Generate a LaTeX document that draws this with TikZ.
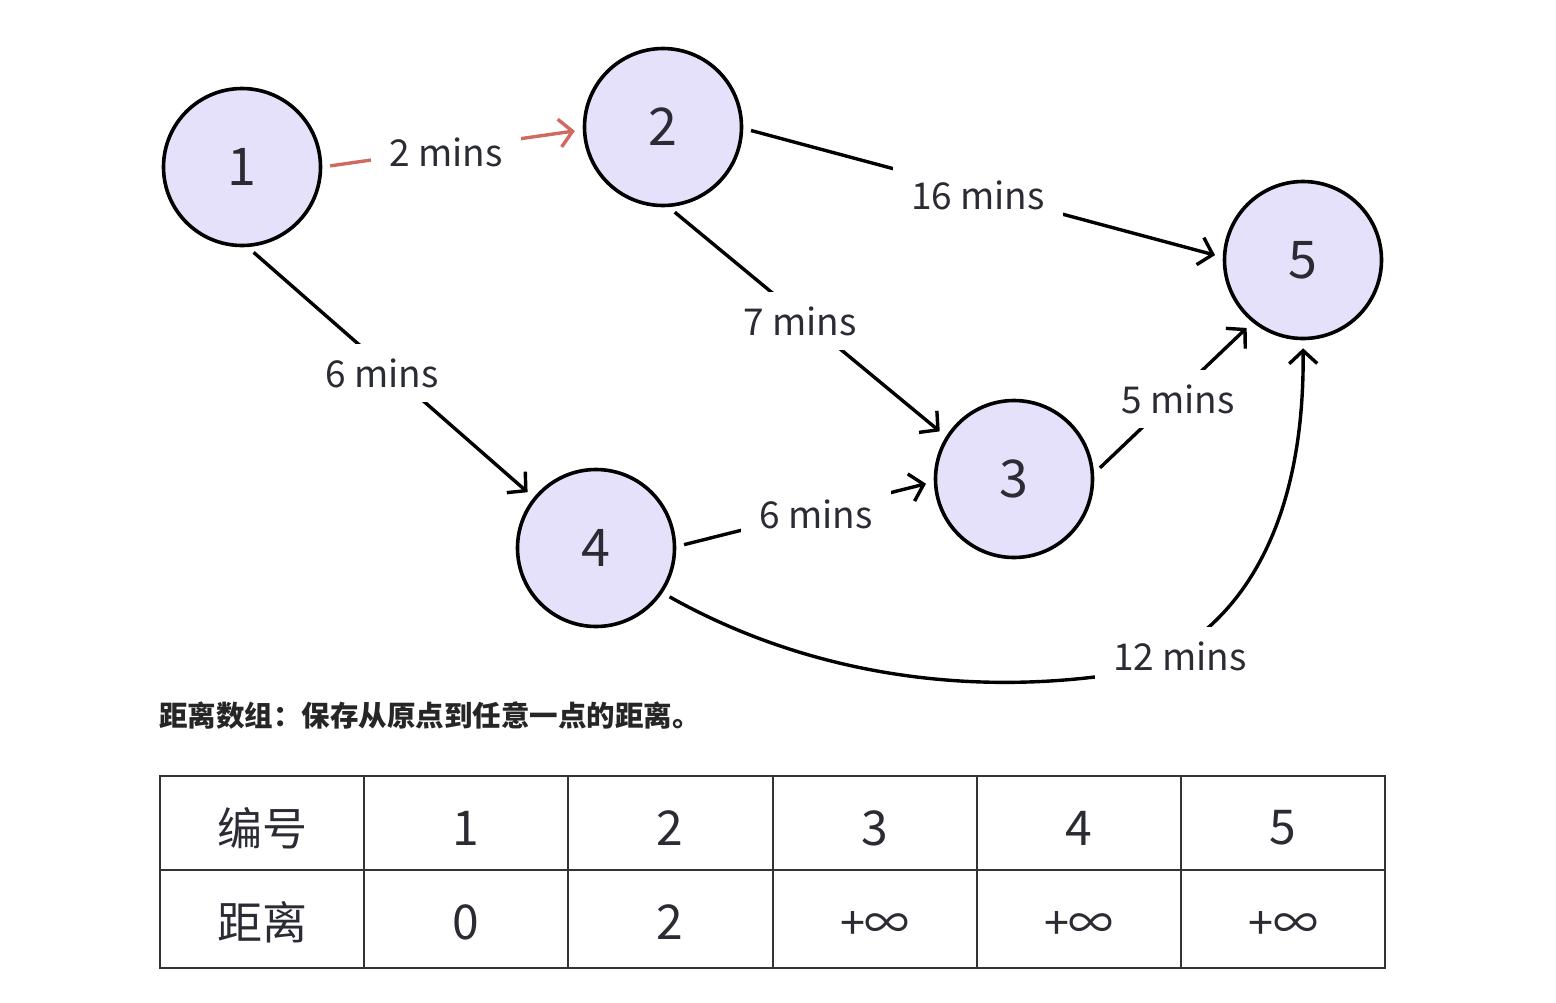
\documentclass[tikz,border=0pt]{standalone}
\usepackage{fontspec}
\setmainfont{Noto Sans CJK SC}
\usetikzlibrary{arrows.meta}
\definecolor{nodefill}{HTML}{E6E1FA}
\definecolor{txt}{HTML}{2A2B33}
\definecolor{redarrow}{HTML}{D06A60}
\definecolor{tblline}{HTML}{333333}
\begin{document}
\begin{tikzpicture}[x=1pt,y=-1pt,
  vert/.style={circle, draw=black, line width=3.6pt, fill=nodefill, minimum size=157pt, inner sep=0pt, font=\fontsize{52}{60}\selectfont, text=txt},
  lbl/.style={fill=white, inner xsep=18pt, inner ysep=14pt, font=\fontsize{37}{44}\selectfont, text=txt},
  edge/.style={line width=3.4pt, -{Straight Barb[length=13pt,width=28pt]}, shorten <=8pt, shorten >=8pt},
  tbl/.style={line width=2pt, draw=tblline},
  cell/.style={text=txt, font=\fontsize{48}{56}\selectfont},
  inf/.style={text=txt, font=\fontsize{45}{52}\selectfont},
  cjkcell/.style={text=txt, font=\fontsize{45}{52}\selectfont},
]
\useasboundingbox (0,0) rectangle (1556,1002);
\node[vert] (n1) at (242,167) {1};
\node[vert] (n2) at (663,127) {2};
\node[vert] (n3) at (1014,479) {3};
\node[vert] (n4) at (596,548) {4};
\node[vert] (n5) at (1303,260) {5};

\coordinate (m45) at (1130,672);

\draw[edge, redarrow] (n1.0) -- (n2.182);
\draw[edge] (n1.-86) -- (n4.141);
\draw[edge] (n2.-86) -- (n3.148);
\draw[edge] (n2.-1) -- (n5.178);
\draw[edge] (n4.1) -- (n3.182);
\draw[edge] (n3.4) -- (n5.231);
\draw[edge] (n4.-34) .. controls (800,670) and (960,700) .. (m45)
  .. controls (1230,640) and (1305,540) .. (n5.-90);

\node[lbl] (l12) at (446,152) {2 mins};
\node[lbl] (l14) at (382,373) {6 mins};
\node[lbl] (l23) at (800,321) {7 mins};
\node[lbl] (l25) at (978,195) {16 mins};
\node[lbl] (l43) at (816,514) {6 mins};
\node[lbl] (l35) at (1178,399) {5 mins};
\node[lbl] (l45) at (1180,656) {12 mins};

\node[anchor=west, inner sep=0pt, font=\bfseries\fontsize{28.5}{34}\selectfont, text=black!85] (cap) at (159,716) {距离数组：保存从原点到任意一点的距离。};

\draw[tbl] (160,776) rectangle (1385,968);
\draw[tbl] (160,870) -- (1385,870);
\foreach \x in {364,568,773,977,1181} \draw[tbl] (\x,776) -- (\x,968);

\node[cjkcell] (h0) at (262,828) {编号};
\node[cell] (h1) at (466,828) {1};
\node[cell] (h2) at (670,828) {2};
\node[cell] (h3) at (875,828) {3};
\node[cell] (h4) at (1079,828) {4};
\node[cell] (h5) at (1283,828) {5};
\node[cjkcell] (d0) at (262,922) {距离};
\node[cell] (d1) at (466,922) {0};
\node[cell] (d2) at (670,922) {2};
\node[inf] (d3) at (875,925) {+∞};
\node[inf] (d4) at (1079,925) {+∞};
\node[inf] (d5) at (1283,925) {+∞};
\end{tikzpicture}
\end{document}
